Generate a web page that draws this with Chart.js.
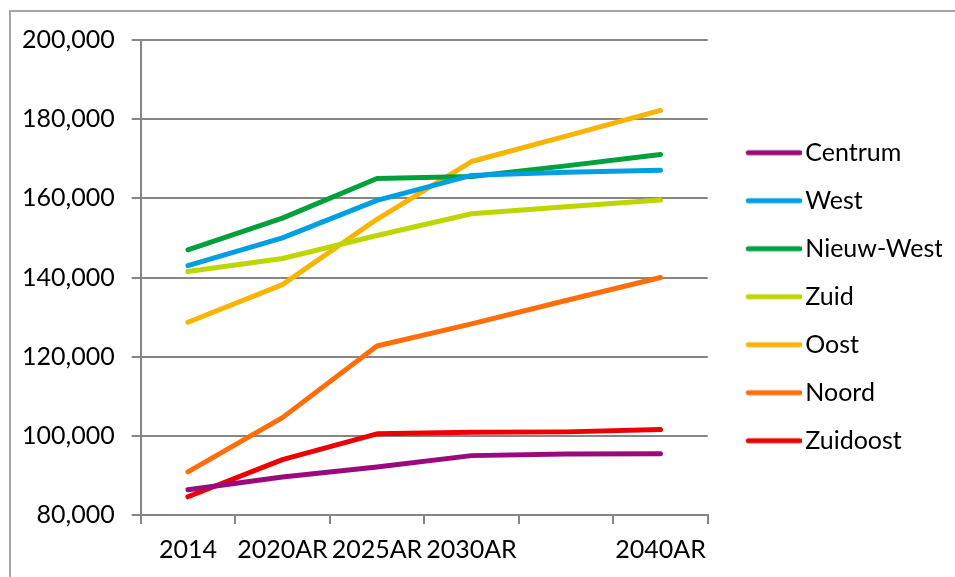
<!DOCTYPE html>
<html>
<head>
<meta charset="utf-8">
<script src="https://cdn.jsdelivr.net/npm/chart.js@4"></script>
<style>
  body { margin: 0; background: #fff; }
  #wrap { position: relative; width: 955px; height: 577px; overflow: hidden; }
  #frame { position: absolute; left: 9px; top: 10px; width: 1000px; height: 1000px;
           border-left: 2px solid #a6a6a6; border-top: 2px solid #a6a6a6; }
  canvas { position: absolute; left: 0; top: 0; }
</style>
</head>
<body>
<div id="wrap">
  <div id="frame"></div>
  <canvas id="chart" width="955" height="577"></canvas>
</div>
<script>
// Categories (5th label is empty in the original)
const years = ['2014', '2020AR', '2025AR', '2030AR', '', '2040AR'];

// Population per district
const centrum   = [86400, 89600, 92100, 95000, 95400, 95500];
const west      = [143000, 150000, 159500, 165800, 166600, 167100];
const nieuwWest = [147000, 155000, 165000, 165500, 168200, 171100];
const zuid      = [141500, 144800, 150600, 156100, 157900, 159600];
const oost      = [128700, 138200, 154700, 169300, 175700, 182200];
const noord     = [90900, 104600, 122700, 128300, 134200, 140000];
const zuidoost  = [84600, 94000, 100500, 100900, 101000, 101600];

const yTicks = [80000, 100000, 120000, 140000, 160000, 180000, 200000];

const fontFamily = 'Lato, "Open Sans", sans-serif';

// legend swatch: short line sitting close to the label text
function swatch(color) {
    const c = document.createElement('canvas');
    c.width = 80;
    c.height = 8;
    const g = c.getContext('2d');
    g.strokeStyle = color;
    g.lineWidth = 5;
    g.lineCap = 'round';
    g.beginPath();
    g.moveTo(26.5, 4);
    g.lineTo(78, 4);
    g.stroke();
    return c;
}

function series(label, data, color) {
    return {
        label: label,
        data: data,
        borderColor: color,
        backgroundColor: color,
        borderWidth: 5,
        borderCapStyle: 'round',
        borderJoinStyle: 'round',
        pointRadius: 0,
        pointHoverRadius: 0,
        pointStyle: swatch(color),
        tension: 0
    };
}

const ctx = document.getElementById('chart').getContext('2d');
new Chart(ctx, {
    type: 'line',
    data: {
        labels: years,
        datasets: [
            series('Centrum', centrum, '#9b0a7d'),
            series('West', west, '#009fe3'),
            series('Nieuw-West', nieuwWest, '#00a03c'),
            series('Zuid', zuid, '#bed600'),
            series('Oost', oost, '#f7b400'),
            series('Noord', noord, '#ff6e0a'),
            series('Zuidoost', zuidoost, '#ee0000')
        ]
    },
    options: {
        responsive: false,
        animation: false,
        layout: { padding: { left: 5, top: 40, right: 13, bottom: 1 } },
        plugins: {
            tooltip: { enabled: false },
            legend: {
                position: 'right',
                fullSize: false,
                title: { display: true, text: ' ', padding: 12, font: { size: 12 } },
                labels: {
                    usePointStyle: true,
                    pointStyleWidth: 62,
                    padding: 23,
                    color: '#000',
                    font: { family: fontFamily, size: 25 }
                }
            }
        },
        scales: {
            x: {
                offset: true,
                grid: {
                    offset: true,
                    drawOnChartArea: false,
                    drawTicks: true,
                    tickLength: 9,
                    color: '#868686',
                    lineWidth: 2
                },
                border: { color: '#868686', width: 2 },
                ticks: {
                    autoSkip: false,
                    maxRotation: 0,
                    padding: 11,
                    color: '#000',
                    font: { family: fontFamily, size: 25 }
                }
            },
            y: {
                min: 80000,
                max: 200000,
                afterBuildTicks: axis => { axis.ticks = yTicks.map(v => ({ value: v })); },
                grid: {
                    color: '#868686',
                    lineWidth: 2,
                    tickLength: 9
                },
                border: { color: '#868686', width: 2 },
                ticks: {
                    padding: 17,
                    color: '#000',
                    font: { family: fontFamily, size: 25 },
                    callback: v => v.toLocaleString('en-US')
                }
            }
        }
    }
});
</script>
</body>
</html>
